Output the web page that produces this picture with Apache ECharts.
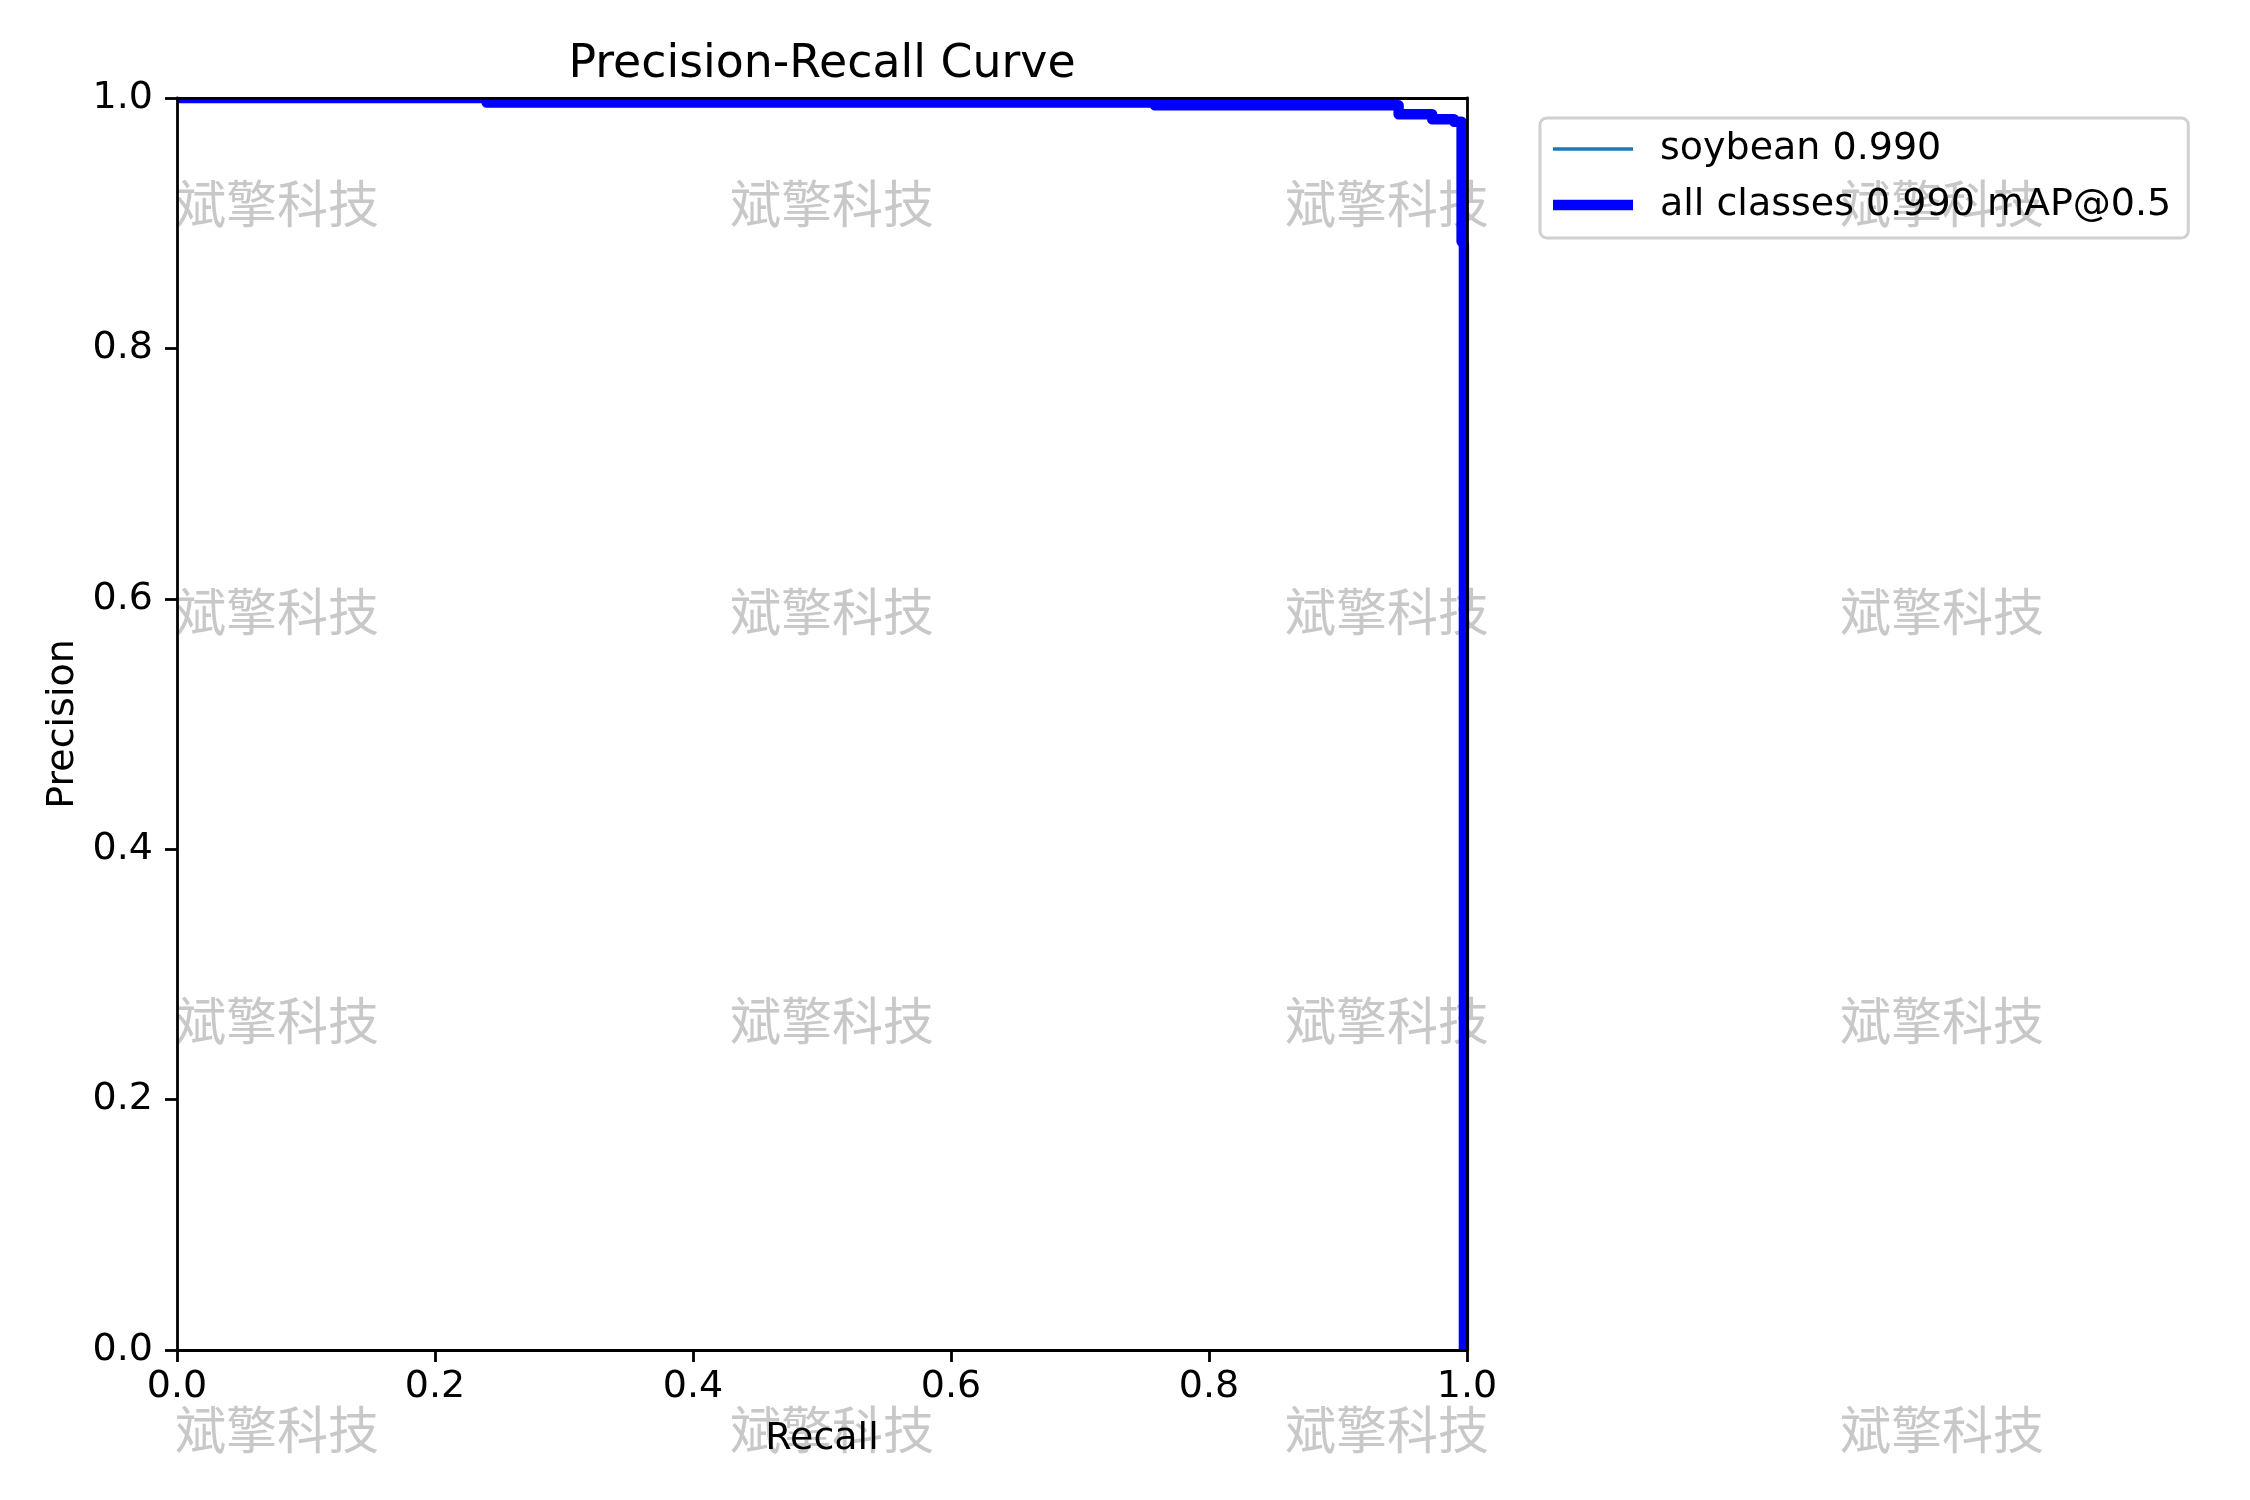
<!DOCTYPE html>
<html>
<head>
<meta charset="utf-8">
<script src="https://cdn.jsdelivr.net/npm/echarts@6/dist/echarts.min.js"></script>
<style>
html,body{margin:0;padding:0;background:#fff;}
#chart{width:2250px;height:1500px;}
</style>
</head>
<body>
<div id="chart"></div>
<script>
// ---- data ----
const titleText = 'Precision-Recall Curve';
const xAxisName = 'Recall';
const yAxisName = 'Precision';
const seriesNames = ['soybean 0.990', 'all classes 0.990 mAP@0.5'];
const recallPts =    [0, 0.240, 0.240, 0.758, 0.758, 0.947, 0.947, 0.973, 0.973, 0.990, 0.990, 0.9958, 0.9958, 0.9976, 0.9976, 1.0];
const precisionPts = [1.0, 1.0, 0.9964, 0.9964, 0.9942, 0.9942, 0.9870, 0.9870, 0.9830, 0.9830, 0.9810, 0.9810, 0.8855, 0.8830, 0.0, 0.0];
const tickValues = [0, 0.2, 0.4, 0.6, 0.8, 1.0];
const watermarkText = '斌擎科技';

const pts = recallPts.map((r, i) => [r, precisionPts[i]]);

const chart = echarts.init(document.getElementById('chart'), null, {renderer: 'canvas'});
const FONT = 'DejaVu Sans';
const fs = 38;

// watermark grid
const wmCols = [175, 730, 1285, 1840];
const wmRows = [204, 612, 1021, 1430];
const graphics = [];
wmRows.forEach(y => wmCols.forEach(x => {
  graphics.push({
    type: 'text', x: x, y: y, z: 1, silent: true,
    style: {text: watermarkText, fill: '#c8c8c8', font: '51px "Noto Sans CJK SC"', textVerticalAlign: 'middle', textAlign: 'left'}
  });
}));
// clip overflow of thick line outside the axes box
graphics.push({type: 'rect', z: 3, silent: true, shape: {x: 165, y: 84, width: 340, height: 13}, style: {fill: '#fff'}});
graphics.push({type: 'rect', z: 3, silent: true, shape: {x: 1450, y: 1351.5, width: 25, height: 8}, style: {fill: '#fff'}});

const axisLine = {show: true, onZero: false, lineStyle: {color: '#000', width: 2.8}};
const option = {
  animation: false,
  backgroundColor: '#fff',
  title: {
    text: titleText, left: 822, top: 42, padding: 0, textAlign: 'center',
    textStyle: {fontFamily: FONT, fontSize: 45.8, fontWeight: 'normal', color: '#000'}
  },
  legend: {
    orient: 'vertical', left: 1540, top: 118,
    padding: [12, 17, 14, 13], itemGap: 18, itemWidth: 80, itemHeight: 38,
    backgroundColor: 'rgba(255,255,255,0)', borderColor: '#d0d0d0', borderWidth: 3, borderRadius: 7,
    itemStyle: {borderWidth: 0},
    textStyle: {fontFamily: FONT, fontSize: fs, color: '#000', padding: [0, 0, 0, 22]},
    data: [
      {name: seriesNames[0], icon: 'path://M0,0H230V10H0Z'},
      {name: seriesNames[1], icon: 'path://M0,0H200V26H0Z'}
    ],
    selectedMode: false
  },
  grid: {left: 177, right: 783, top: 98, bottom: 150},
  xAxis: [
    {
      type: 'value', min: 0, max: 1, interval: 0.2, position: 'bottom', z: 5,
      name: xAxisName, nameLocation: 'middle', nameGap: 70,
      nameTextStyle: {fontFamily: FONT, fontSize: fs, color: '#000'},
      axisLine: axisLine,
      axisTick: {show: true, inside: false, length: 12, lineStyle: {color: '#000', width: 2.8}},
      axisLabel: {margin: 18, fontFamily: FONT, fontSize: fs, color: '#000', formatter: v => v.toFixed(1)},
      splitLine: {show: false}
    },
    {
      type: 'value', min: 0, max: 1, position: 'top', z: 5,
      axisLine: axisLine, axisTick: {show: false}, axisLabel: {show: false}, splitLine: {show: false}
    }
  ],
  yAxis: [
    {
      type: 'value', min: 0, max: 1, interval: 0.2, position: 'left', z: 5,
      name: yAxisName, nameLocation: 'middle', nameGap: 95,
      nameTextStyle: {fontFamily: FONT, fontSize: fs, color: '#000'},
      axisLine: axisLine,
      axisTick: {show: true, inside: false, length: 12, lineStyle: {color: '#000', width: 2.8}},
      axisLabel: {margin: 24, fontFamily: FONT, fontSize: fs, color: '#000', formatter: v => v.toFixed(1)},
      splitLine: {show: false}
    },
    {
      type: 'value', min: 0, max: 1, position: 'right', z: 5,
      axisLine: axisLine, axisTick: {show: false}, axisLabel: {show: false}, splitLine: {show: false}
    }
  ],
  series: [
    {
      name: seriesNames[0], type: 'line', data: pts, xAxisIndex: 0, yAxisIndex: 0,
      showSymbol: false, symbol: 'none', z: 2,
      itemStyle: {color: '#1f77b4'},
      lineStyle: {color: '#1f77b4', width: 3.47, join: 'round'}
    },
    {
      name: seriesNames[1], type: 'line', data: pts, xAxisIndex: 0, yAxisIndex: 0,
      showSymbol: false, symbol: 'none', z: 2,
      itemStyle: {color: '#0000ff'},
      lineStyle: {color: '#0000ff', width: 10.4, join: 'round'}
    }
  ],
  graphic: {elements: graphics}
};
chart.setOption(option);
</script>
</body>
</html>
